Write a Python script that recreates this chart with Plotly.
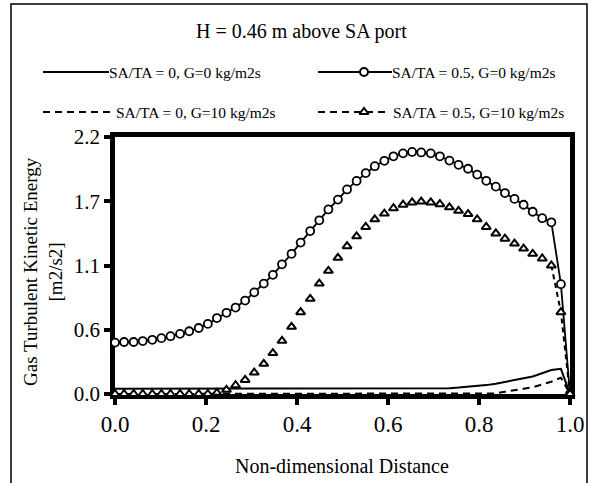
import plotly.graph_objects as go

# Non-dimensional distance across the riser (cell positions)
x_dist = [0.000, 0.020, 0.041, 0.061, 0.082, 0.102, 0.122, 0.143, 0.163, 0.184,
          0.204, 0.224, 0.245, 0.265, 0.286, 0.306, 0.327, 0.347, 0.367, 0.388,
          0.408, 0.429, 0.449, 0.469, 0.490, 0.510, 0.531, 0.551, 0.571, 0.592,
          0.612, 0.633, 0.653, 0.673, 0.694, 0.714, 0.735, 0.755, 0.776, 0.796,
          0.816, 0.837, 0.857, 0.878, 0.898, 0.918, 0.939, 0.959, 0.980, 1.000]

# Gas turbulent kinetic energy [m2/s2]
k_sa0_g0 = [0.045, 0.045, 0.045, 0.045, 0.045, 0.045, 0.045, 0.045, 0.045, 0.045,
            0.045, 0.045, 0.045, 0.045, 0.045, 0.045, 0.045, 0.045, 0.045, 0.045,
            0.045, 0.045, 0.045, 0.045, 0.045, 0.045, 0.045, 0.045, 0.045, 0.045,
            0.045, 0.045, 0.045, 0.045, 0.045, 0.047, 0.050, 0.055, 0.061, 0.068,
            0.076, 0.088, 0.105, 0.120, 0.135, 0.150, 0.175, 0.205, 0.215, 0.000]

k_sa05_g0 = [0.440, 0.445, 0.445, 0.453, 0.464, 0.478, 0.495, 0.515, 0.537, 0.565,
             0.600, 0.650, 0.695, 0.740, 0.800, 0.870, 0.945, 1.020, 1.110, 1.200,
             1.296, 1.395, 1.487, 1.580, 1.664, 1.751, 1.824, 1.891, 1.950, 1.996,
             2.035, 2.060, 2.072, 2.068, 2.060, 2.035, 1.998, 1.962, 1.928, 1.878,
             1.825, 1.775, 1.720, 1.670, 1.620, 1.560, 1.505, 1.470, 0.940, 0.000]

k_sa0_g10 = [0.000, 0.000, 0.000, 0.000, 0.000, 0.000, 0.000, 0.000, 0.000, 0.000,
             0.000, 0.000, 0.000, 0.000, 0.000, 0.000, 0.000, 0.000, 0.000, 0.000,
             0.000, 0.000, 0.000, 0.000, 0.000, 0.000, 0.000, 0.000, 0.000, 0.000,
             0.000, 0.000, 0.000, 0.000, 0.000, 0.000, 0.000, 0.000, 0.000, 0.000,
             0.000, 0.005, 0.020, 0.030, 0.045, 0.058, 0.080, 0.105, 0.140, 0.000]

k_sa05_g10 = [0.000, 0.000, 0.000, 0.000, 0.000, 0.000, 0.000, 0.000, 0.000, 0.000,
              0.000, 0.010, 0.036, 0.075, 0.120, 0.183, 0.258, 0.350, 0.455, 0.575,
              0.700, 0.815, 0.945, 1.054, 1.166, 1.265, 1.350, 1.430, 1.495, 1.545,
              1.590, 1.620, 1.640, 1.647, 1.640, 1.625, 1.598, 1.568, 1.540, 1.495,
              1.430, 1.375, 1.330, 1.288, 1.245, 1.200, 1.160, 1.100, 0.700, 0.000]

x_tick_vals = [0.0, 0.2, 0.4, 0.6, 0.8, 1.0]
x_tick_text = ["0.0", "0.2", "0.4", "0.6", "0.8", "1.0"]
y_tick_vals = [0.0, 0.55, 1.1, 1.65, 2.2]
y_tick_text = ["0.0", "0.6", "1.1", "1.7", "2.2"]

chart_title = "H = 0.46 m above SA port"
x_title = "Non-dimensional Distance"
y_title = "Gas Turbulent Kinetic Energy<br>[m2/s2]"
name_sa0_g0 = "SA/TA = 0, G=0 kg/m2s"
name_sa05_g0 = "SA/TA = 0.5, G=0 kg/m2s"
name_sa0_g10 = "SA/TA = 0, G=10 kg/m2s"
name_sa05_g10 = "SA/TA = 0.5, G=10 kg/m2s"

FONT = "Liberation Serif, Times New Roman, serif"
BLACK = "black"
DASH = "7px,5px"

W, H = 591, 483
M_L, M_R, M_T, M_B = 20, 21, 10, 89
AREA_W = W - M_L - M_R
AREA_H = H - M_T - M_B


def px(xp):
    return (xp - M_L) / AREA_W


def py(yp):
    return (H - M_B - yp) / AREA_H


fig = go.Figure()

# Data curves
fig.add_trace(go.Scatter(x=x_dist, y=k_sa0_g0, mode="lines",
                         line=dict(color=BLACK, width=2), showlegend=False))
fig.add_trace(go.Scatter(x=x_dist, y=k_sa0_g10, mode="lines",
                         line=dict(color=BLACK, width=2, dash=DASH), showlegend=False))
fig.add_trace(go.Scatter(x=x_dist[-3:], y=k_sa05_g10[-3:], mode="lines",
                         line=dict(color=BLACK, width=2, dash="5px,4px"), showlegend=False))
fig.add_trace(go.Scatter(x=x_dist, y=k_sa05_g0, mode="lines+markers",
                         line=dict(color=BLACK, width=1.8),
                         marker=dict(symbol="circle", size=8, color="white",
                                     line=dict(color=BLACK, width=1.8)),
                         cliponaxis=False, showlegend=False))
fig.add_trace(go.Scatter(x=x_dist, y=k_sa05_g10, mode="markers",
                         marker=dict(symbol="triangle-up", size=8, color="white",
                                     line=dict(color=BLACK, width=2)),
                         cliponaxis=False, showlegend=False))

# Legend samples, drawn on a hidden pixel-scaled overlay axis
LEG_ROWS = [72, 112]
leg = [
    (43, 109, LEG_ROWS[0], None, None, 107, name_sa0_g0),
    (318, 392, LEG_ROWS[0], None, "circle", 390, name_sa05_g0),
    (43, 112, LEG_ROWS[1], DASH, None, 114, name_sa0_g10),
    (318, 388, LEG_ROWS[1], DASH, "triangle-up", 391, name_sa05_g10),
]
for x0, x1, yy, dash, sym, tx, label in leg:
    fig.add_trace(go.Scatter(x=[x0, x1], y=[yy, yy], mode="lines", xaxis="x2", yaxis="y2",
                             line=dict(color=BLACK, width=2.2, dash=dash),
                             cliponaxis=False, showlegend=False, hoverinfo="skip"))
    if sym:
        fig.add_trace(go.Scatter(x=[364], y=[yy], mode="markers", xaxis="x2", yaxis="y2",
                                 marker=dict(symbol=sym, size=8, color="white",
                                             line=dict(color=BLACK, width=2)),
                                 cliponaxis=False, showlegend=False, hoverinfo="skip"))
    fig.add_annotation(x=tx, y=yy, xref="x2", yref="y2", text=label, showarrow=False,
                       xanchor="left", yanchor="middle",
                       font=dict(family=FONT, size=15.5, color=BLACK))

axis_common = dict(showgrid=False, zeroline=False, showline=True, linecolor=BLACK,
                   linewidth=4.5, mirror=True, ticks="outside", tickcolor=BLACK,
                   tickwidth=4, ticklen=6, automargin=False, layer="below traces")

fig.update_layout(
    template="none",
    width=W, height=H, autosize=False,
    margin=dict(l=M_L, r=M_R, t=M_T, b=M_B, pad=0, autoexpand=False),
    paper_bgcolor="white", plot_bgcolor="white",
    showlegend=False,
    xaxis=dict(domain=[px(115), 1.0], range=[0, 1], tickvals=x_tick_vals,
               ticktext=x_tick_text, anchor="y",
               tickfont=dict(family=FONT, size=23, color=BLACK), **axis_common),
    yaxis=dict(domain=[0, py(137)], range=[0, 2.2], tickvals=y_tick_vals,
               ticktext=y_tick_text, anchor="x",
               tickfont=dict(family=FONT, size=21, color=BLACK), **axis_common),
    xaxis2=dict(domain=[0, 1], range=[M_L, W - M_R], visible=False, anchor="y2",
                automargin=False),
    yaxis2=dict(domain=[py(125), 1], range=[125, M_T], visible=False, anchor="x2",
                automargin=False),
)

# Title, axis titles and outer frame
fig.add_annotation(x=px(301.5), y=py(32), xref="paper", yref="paper", text=chart_title,
                   showarrow=False, xanchor="center", yanchor="middle",
                   font=dict(family=FONT, size=20, color=BLACK))
fig.add_annotation(x=px(342.5), y=py(466), xref="paper", yref="paper", text=x_title,
                   showarrow=False, xanchor="center", yanchor="middle",
                   font=dict(family=FONT, size=20, color=BLACK))
fig.add_annotation(x=px(43), y=py(272), xref="paper", yref="paper", text=y_title,
                   showarrow=False, xanchor="center", yanchor="middle", textangle=-90,
                   font=dict(family=FONT, size=19, color=BLACK))
fig.add_shape(type="rect", xref="paper", yref="paper",
              x0=px(11), x1=px(587), y0=py(495), y1=py(4),
              line=dict(color=BLACK, width=1.5), layer="below")

# Let the figure sit flush in the page without the default body margin
fig.write_html("out.html",
               post_script="document.body.style.margin='0';"
                           "document.body.style.overflow='hidden';")
